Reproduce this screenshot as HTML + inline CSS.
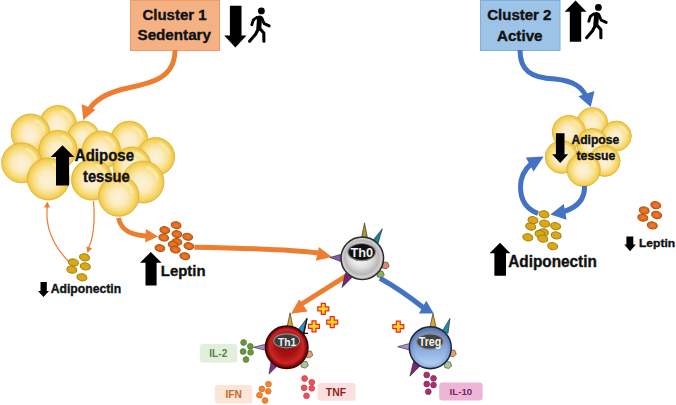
<!DOCTYPE html><html><head><meta charset="utf-8"><style>html,body{margin:0;padding:0;background:#fff;width:676px;height:405px;overflow:hidden}svg{display:block}text{font-family:"Liberation Sans",sans-serif;font-weight:bold}</style></head><body>
<svg width="676" height="405" viewBox="0 0 676 405">
<defs>
<radialGradient id="fat" cx="50%" cy="50%" r="50%" fx="48%" fy="54%">
<stop offset="0" stop-color="#FDF2D8"/><stop offset="0.4" stop-color="#FCECC2"/><stop offset="0.68" stop-color="#F9DF8A"/><stop offset="0.86" stop-color="#F5D35C"/><stop offset="0.95" stop-color="#EFC94C"/><stop offset="1" stop-color="#E0B843"/></radialGradient>
<radialGradient id="grey" cx="50%" cy="50%" r="50%" fx="42%" fy="40%">
<stop offset="0" stop-color="#FFFFFF"/><stop offset="0.5" stop-color="#E4E4E4"/><stop offset="0.8" stop-color="#B8B8B8"/><stop offset="0.92" stop-color="#D2D2D2"/><stop offset="1" stop-color="#8A8A8A"/></radialGradient>
<radialGradient id="red" cx="50%" cy="50%" r="50%" fx="50%" fy="40%">
<stop offset="0" stop-color="#8E0C0C"/><stop offset="0.5" stop-color="#A81212"/><stop offset="0.8" stop-color="#CC2626"/><stop offset="0.92" stop-color="#8A0A0A"/><stop offset="1" stop-color="#4A0404"/></radialGradient>
<linearGradient id="blue" x1="0" y1="0" x2="0" y2="1">
<stop offset="0" stop-color="#6684BA"/><stop offset="0.35" stop-color="#7C9CD4"/><stop offset="0.7" stop-color="#9ABAEA"/><stop offset="0.92" stop-color="#B6D2F6"/><stop offset="1" stop-color="#88A8D8"/></linearGradient>
<radialGradient id="edge" cx="50%" cy="50%" r="50%"><stop offset="0.75" stop-color="#000" stop-opacity="0"/><stop offset="0.93" stop-color="#102040" stop-opacity="0.15"/><stop offset="1" stop-color="#102040" stop-opacity="0.5"/></radialGradient>
<radialGradient id="gold" cx="50%" cy="50%" r="50%"><stop offset="0" stop-color="#E4A414"/><stop offset="0.6" stop-color="#D8A818"/><stop offset="1" stop-color="#D0AC20"/></radialGradient>
<radialGradient id="lep" cx="50%" cy="50%" r="50%"><stop offset="0" stop-color="#EC8030"/><stop offset="0.7" stop-color="#E06A20"/><stop offset="1" stop-color="#D06018"/></radialGradient>
</defs>
<rect x="130.5" y="0.5" width="89" height="50" fill="#F4B183" stroke="#F09A66" stroke-width="1"/>
<text x="142.5" y="19.8" font-size="14.5" textLength="64.0" lengthAdjust="spacingAndGlyphs" fill="#111" stroke="#111" stroke-width="0.35" >Cluster 1</text>
<text x="137.5" y="40" font-size="14.5" textLength="73.5" lengthAdjust="spacingAndGlyphs" fill="#111" stroke="#111" stroke-width="0.35" >Sedentary</text>
<rect x="480.5" y="0.5" width="79.5" height="50" fill="#9DC3E6" stroke="#7FAEDB" stroke-width="1"/>
<text x="487.2" y="19.8" font-size="14.5" textLength="64.3" lengthAdjust="spacingAndGlyphs" fill="#111" stroke="#111" stroke-width="0.35" >Cluster 2</text>
<text x="497" y="40.5" font-size="14.5" textLength="45.5" lengthAdjust="spacingAndGlyphs" fill="#111" stroke="#111" stroke-width="0.35" >Active</text>
<path d="M229.9,5.7 L241.5,5.7 L241.5,35.5 L246.5,35.5 L235.35,47.5 L224.2,35.5 L229.9,35.5 Z" fill="#000"/>
<path d="M569.8,41.7 L581.2,41.7 L581.2,11.7 L586.5,11.7 L575.55,0.6 L564.6,11.7 L569.8,11.7 Z" fill="#000"/>
<g transform="translate(261.4,10.9) scale(1.0)" stroke="#000" stroke-linecap="round" stroke-linejoin="round" fill="none"><circle cx="0" cy="0" r="3.4" fill="#000" stroke="none"/><path d="M-1.8,7 L-2.6,17.5" stroke-width="5"/><path d="M-4.5,6.5 L-8,9 L-9.6,13.8" stroke-width="2.9"/><path d="M0.3,7 L2.8,12.8 L7.8,15" stroke-width="2.9"/><path d="M-3,17.8 L-5.8,23.3 L-11.8,30.3" stroke-width="3.1"/><path d="M-1,18.3 L2.4,22.2 L2.5,30.3" stroke-width="3.1"/></g>
<g transform="translate(598.4,7.4) scale(1.0)" stroke="#000" stroke-linecap="round" stroke-linejoin="round" fill="none"><circle cx="0" cy="0" r="3.4" fill="#000" stroke="none"/><path d="M-1.8,7 L-2.6,17.5" stroke-width="5"/><path d="M-4.5,6.5 L-8,9 L-9.6,13.8" stroke-width="2.9"/><path d="M0.3,7 L2.8,12.8 L7.8,15" stroke-width="2.9"/><path d="M-3,17.8 L-5.8,23.3 L-11.8,30.3" stroke-width="3.1"/><path d="M-1,18.3 L2.4,22.2 L2.5,30.3" stroke-width="3.1"/></g>
<circle cx="58" cy="124" r="18.5" fill="url(#fat)" stroke="#E2B43A" stroke-width="0.9"/><path d="M62.6,111.5 A13.3,13.3 0 0 1 70.9,120.6" fill="none" stroke="#FFFBEA" stroke-opacity="0.4" stroke-width="3.0" stroke-linecap="round"/>
<circle cx="30.6" cy="133.4" r="19.4" fill="url(#fat)" stroke="#E2B43A" stroke-width="0.9"/><path d="M35.4,120.3 A14.0,14.0 0 0 1 44.1,129.8" fill="none" stroke="#FFFBEA" stroke-opacity="0.4" stroke-width="3.1" stroke-linecap="round"/>
<circle cx="83.5" cy="137" r="16" fill="url(#fat)" stroke="#E2B43A" stroke-width="0.9"/><path d="M87.4,126.2 A11.5,11.5 0 0 1 94.6,134.0" fill="none" stroke="#FFFBEA" stroke-opacity="0.4" stroke-width="2.6" stroke-linecap="round"/>
<circle cx="129.3" cy="139.8" r="18.6" fill="url(#fat)" stroke="#E2B43A" stroke-width="0.9"/><path d="M133.9,127.2 A13.4,13.4 0 0 1 142.2,136.3" fill="none" stroke="#FFFBEA" stroke-opacity="0.4" stroke-width="3.0" stroke-linecap="round"/>
<circle cx="58" cy="149.4" r="19" fill="url(#fat)" stroke="#E2B43A" stroke-width="0.9"/><path d="M62.7,136.5 A13.7,13.7 0 0 1 71.2,145.9" fill="none" stroke="#FFFBEA" stroke-opacity="0.4" stroke-width="3.0" stroke-linecap="round"/>
<circle cx="101.3" cy="150" r="19" fill="url(#fat)" stroke="#E2B43A" stroke-width="0.9"/><path d="M106.0,137.1 A13.7,13.7 0 0 1 114.5,146.5" fill="none" stroke="#FFFBEA" stroke-opacity="0.4" stroke-width="3.0" stroke-linecap="round"/>
<circle cx="155.6" cy="156.6" r="19" fill="url(#fat)" stroke="#E2B43A" stroke-width="0.9"/><path d="M160.3,143.7 A13.7,13.7 0 0 1 168.8,153.1" fill="none" stroke="#FFFBEA" stroke-opacity="0.4" stroke-width="3.0" stroke-linecap="round"/>
<circle cx="132" cy="166" r="19" fill="url(#fat)" stroke="#E2B43A" stroke-width="0.9"/><path d="M136.7,153.1 A13.7,13.7 0 0 1 145.2,162.5" fill="none" stroke="#FFFBEA" stroke-opacity="0.4" stroke-width="3.0" stroke-linecap="round"/>
<circle cx="21.7" cy="162.8" r="20" fill="url(#fat)" stroke="#E2B43A" stroke-width="0.9"/><path d="M26.6,149.3 A14.4,14.4 0 0 1 35.6,159.1" fill="none" stroke="#FFFBEA" stroke-opacity="0.4" stroke-width="3.2" stroke-linecap="round"/>
<circle cx="48.3" cy="178.9" r="21" fill="url(#fat)" stroke="#E2B43A" stroke-width="0.9"/><path d="M53.5,164.7 A15.1,15.1 0 0 1 62.9,175.0" fill="none" stroke="#FFFBEA" stroke-opacity="0.4" stroke-width="3.4" stroke-linecap="round"/>
<circle cx="92" cy="179.6" r="20.5" fill="url(#fat)" stroke="#E2B43A" stroke-width="0.9"/><path d="M97.0,165.7 A14.8,14.8 0 0 1 106.3,175.8" fill="none" stroke="#FFFBEA" stroke-opacity="0.4" stroke-width="3.3" stroke-linecap="round"/>
<circle cx="143" cy="182" r="21" fill="url(#fat)" stroke="#E2B43A" stroke-width="0.9"/><path d="M148.2,167.8 A15.1,15.1 0 0 1 157.6,178.1" fill="none" stroke="#FFFBEA" stroke-opacity="0.4" stroke-width="3.4" stroke-linecap="round"/>
<circle cx="118.8" cy="196" r="20.3" fill="url(#fat)" stroke="#E2B43A" stroke-width="0.9"/><path d="M123.8,182.3 A14.6,14.6 0 0 1 132.9,192.2" fill="none" stroke="#FFFBEA" stroke-opacity="0.4" stroke-width="3.2" stroke-linecap="round"/>
<circle cx="592.3" cy="122.8" r="15.4" fill="url(#fat)" stroke="#E2B43A" stroke-width="0.9"/><path d="M596.1,112.4 A11.1,11.1 0 0 1 603.0,119.9" fill="none" stroke="#FFFBEA" stroke-opacity="0.4" stroke-width="2.5" stroke-linecap="round"/>
<circle cx="568.9" cy="132" r="16.6" fill="url(#fat)" stroke="#E2B43A" stroke-width="0.9"/><path d="M573.0,120.8 A12.0,12.0 0 0 1 580.4,128.9" fill="none" stroke="#FFFBEA" stroke-opacity="0.4" stroke-width="2.7" stroke-linecap="round"/>
<circle cx="616.3" cy="136" r="15" fill="url(#fat)" stroke="#E2B43A" stroke-width="0.9"/><path d="M620.0,125.9 A10.8,10.8 0 0 1 626.7,133.2" fill="none" stroke="#FFFBEA" stroke-opacity="0.4" stroke-width="2.4" stroke-linecap="round"/>
<circle cx="592.3" cy="144" r="15.5" fill="url(#fat)" stroke="#E2B43A" stroke-width="0.9"/><path d="M596.1,133.5 A11.2,11.2 0 0 1 603.1,141.1" fill="none" stroke="#FFFBEA" stroke-opacity="0.4" stroke-width="2.5" stroke-linecap="round"/>
<circle cx="561.7" cy="157" r="16.4" fill="url(#fat)" stroke="#E2B43A" stroke-width="0.9"/><path d="M565.7,145.9 A11.8,11.8 0 0 1 573.1,153.9" fill="none" stroke="#FFFBEA" stroke-opacity="0.4" stroke-width="2.6" stroke-linecap="round"/>
<circle cx="604.6" cy="161" r="15.4" fill="url(#fat)" stroke="#E2B43A" stroke-width="0.9"/><path d="M608.4,150.6 A11.1,11.1 0 0 1 615.3,158.1" fill="none" stroke="#FFFBEA" stroke-opacity="0.4" stroke-width="2.5" stroke-linecap="round"/>
<circle cx="583.6" cy="169.7" r="16.7" fill="url(#fat)" stroke="#E2B43A" stroke-width="0.9"/><path d="M587.7,158.4 A12.0,12.0 0 0 1 595.2,166.6" fill="none" stroke="#FFFBEA" stroke-opacity="0.4" stroke-width="2.7" stroke-linecap="round"/>
<path d="M56,185.6 L69.1,185.6 L69.1,157 L74.3,157 L62.5,145.2 L50.7,157 L56,157 Z" fill="#000"/>
<text x="74.8" y="160.7" font-size="15.6" textLength="59.2" lengthAdjust="spacingAndGlyphs" fill="#111" stroke="#111" stroke-width="0.35" >Adipose</text>
<text x="83" y="181.7" font-size="15.6" textLength="46.7" lengthAdjust="spacingAndGlyphs" fill="#111" stroke="#111" stroke-width="0.35" >tessue</text>
<path d="M555.9,133.3 L564.5,133.3 L564.5,154.3 L568.2,154.3 L560.2,162.9 L552.2,154.3 L555.9,154.3 Z" fill="#000"/>
<text x="571.4" y="143.9" font-size="12" textLength="47.8" lengthAdjust="spacingAndGlyphs" fill="#111" stroke="#111" stroke-width="0.35" >Adipose</text>
<text x="576.5" y="160.4" font-size="12" textLength="38.9" lengthAdjust="spacingAndGlyphs" fill="#111" stroke="#111" stroke-width="0.35" >tessue</text>
<path d="M175,50 C175,78 152,83 128,88 C108,92 96,100 90,108" fill="none" stroke="#ED7D31" stroke-width="4.9"/>
<path d="M83.3,120.0 L81.6,104.2 L95.5,109.8 Z" fill="#ED7D31"/>
<path d="M520,50 C520,70 530,78 555,79 C575,81 582,88 586,96" fill="none" stroke="#4472C4" stroke-width="5"/>
<path d="M590.7,106.9 L578.3,96.2 L594.5,91.0 Z" fill="#4472C4"/>
<path d="M69,262 Q44,236 47.3,207" fill="none" stroke="#ED7D31" stroke-width="1.2"/>
<path d="M47.3,201.5 L50.1,207.6 L44.1,207.4 Z" fill="#ED7D31"/>
<path d="M93.5,201 Q96,232 88.5,248" fill="none" stroke="#ED7D31" stroke-width="1.2"/>
<path d="M87.4,253.0 L86.4,246.4 L92.1,248.2 Z" fill="#ED7D31"/>
<ellipse cx="84.5" cy="257.3" rx="5" ry="3.5" fill="url(#gold)" stroke="#A88208" stroke-width="1.1" transform="rotate(12 84.5 257.3)"/>
<ellipse cx="73.4" cy="262.5" rx="5" ry="3.5" fill="url(#gold)" stroke="#A88208" stroke-width="1.1" transform="rotate(12 73.4 262.5)"/>
<ellipse cx="85.3" cy="266.4" rx="5" ry="3.5" fill="url(#gold)" stroke="#A88208" stroke-width="1.1" transform="rotate(12 85.3 266.4)"/>
<ellipse cx="71.8" cy="269.6" rx="5" ry="3.5" fill="url(#gold)" stroke="#A88208" stroke-width="1.1" transform="rotate(12 71.8 269.6)"/>
<ellipse cx="81.9" cy="277.3" rx="5" ry="3.5" fill="url(#gold)" stroke="#A88208" stroke-width="1.1" transform="rotate(12 81.9 277.3)"/>
<path d="M40.5,282 L46.8,282 L46.8,291 L49,291 L43.5,297 L38,291 L40.5,291 Z" fill="#000"/>
<text x="50.7" y="292.6" font-size="13" textLength="70.4" lengthAdjust="spacingAndGlyphs" fill="#111" stroke="#111" stroke-width="0.35" >Adiponectin</text>
<path d="M118.5,218 C121,230 130,235 146,236" fill="none" stroke="#ED7D31" stroke-width="4.8"/>
<path d="M158.0,236.5 L145.2,242.6 L145.9,229.1 Z" fill="#ED7D31"/>
<ellipse cx="176.1" cy="225.2" rx="4.9" ry="3.4" fill="url(#lep)" stroke="#B5530C" stroke-width="1.1" transform="rotate(10 176.1 225.2)"/>
<ellipse cx="164.8" cy="230.1" rx="4.9" ry="3.4" fill="url(#lep)" stroke="#B5530C" stroke-width="1.1" transform="rotate(10 164.8 230.1)"/>
<ellipse cx="176.9" cy="234.1" rx="4.9" ry="3.4" fill="url(#lep)" stroke="#B5530C" stroke-width="1.1" transform="rotate(10 176.9 234.1)"/>
<ellipse cx="187.7" cy="236.8" rx="4.9" ry="3.4" fill="url(#lep)" stroke="#B5530C" stroke-width="1.1" transform="rotate(10 187.7 236.8)"/>
<ellipse cx="163.7" cy="237.6" rx="4.9" ry="3.4" fill="url(#lep)" stroke="#B5530C" stroke-width="1.1" transform="rotate(10 163.7 237.6)"/>
<ellipse cx="176.9" cy="241.9" rx="4.9" ry="3.4" fill="url(#lep)" stroke="#B5530C" stroke-width="1.1" transform="rotate(10 176.9 241.9)"/>
<ellipse cx="173.2" cy="244.6" rx="4.9" ry="3.4" fill="url(#lep)" stroke="#B5530C" stroke-width="1.1" transform="rotate(10 173.2 244.6)"/>
<ellipse cx="188.9" cy="246.1" rx="4.9" ry="3.4" fill="url(#lep)" stroke="#B5530C" stroke-width="1.1" transform="rotate(10 188.9 246.1)"/>
<ellipse cx="159.9" cy="248.1" rx="4.9" ry="3.4" fill="url(#lep)" stroke="#B5530C" stroke-width="1.1" transform="rotate(10 159.9 248.1)"/>
<ellipse cx="175.3" cy="249.6" rx="4.9" ry="3.4" fill="url(#lep)" stroke="#B5530C" stroke-width="1.1" transform="rotate(10 175.3 249.6)"/>
<ellipse cx="184.8" cy="256.2" rx="4.9" ry="3.4" fill="url(#lep)" stroke="#B5530C" stroke-width="1.1" transform="rotate(10 184.8 256.2)"/>
<path d="M145.5,285.5 L156.6,285.5 L156.6,262.8 L161.6,262.8 L150.8,252 L140,262.8 L145.5,262.8 Z" fill="#000"/>
<text x="160.8" y="275.6" font-size="15.3" textLength="44.7" lengthAdjust="spacingAndGlyphs" fill="#111" stroke="#111" stroke-width="0.35" >Leptin</text>
<path d="M194.4,247.2 C240,248 290,249 318,253" fill="none" stroke="#ED7D31" stroke-width="5"/>
<path d="M332.0,257.0 L315.9,260.7 L318.8,247.0 Z" fill="#ED7D31"/>
<path d="M346,276.2 L300,305" fill="none" stroke="#ED7D31" stroke-width="5"/>
<path d="M291.0,313.8 L299.2,299.2 L307.6,311.6 Z" fill="#ED7D31"/>
<path d="M380,278.3 Q401,290 423.5,307.8" fill="none" stroke="#4472C4" stroke-width="5"/>
<path d="M433.8,313.6 L418.9,313.4 L426.2,300.8 Z" fill="#4472C4"/>
<path d="M364.5,222.9 L361.5,238 L367.5,238 Z" fill="#A8982A" stroke="#222" stroke-width="0.6"/><path d="M382.3,228.8 L372.4,241 L377.8,244 Z" fill="#1C7FA0" stroke="#222" stroke-width="0.6"/><path d="M330,257.5 L342,254 L342,262 Z" fill="#8656B8" stroke="#222" stroke-width="0.6"/><path d="M342,287.5 L345.5,273 L352,277.5 Z" fill="#7A2378" stroke="#222" stroke-width="0.6"/><path d="M381.7,265.4 L383.7,261.9 L387.7,262.4 L389.2,266.4 L386.2,268.9 L382.2,267.9 Z" fill="#D88A6A" stroke="#333" stroke-width="0.6"/><path d="M376.8,274.3 L378.8,270.8 L382.8,271.3 L384.3,275.3 L381.3,277.8 L377.3,276.8 Z" fill="#8BB05A" stroke="#333" stroke-width="0.6"/><circle cx="362.3" cy="258.3" r="21.3" fill="url(#grey)" stroke="#2a2a2a" stroke-width="1.4"/><ellipse cx="361.7" cy="252.1" rx="13.8" ry="8.6" fill="#111" stroke="#8a8a8a" stroke-width="1.2"/><text x="350.6" y="257" font-size="12" textLength="22.6" lengthAdjust="spacingAndGlyphs" fill="#f2f2f2">Th0</text>
<path d="M290.1,312.8 L287,327.5 L293,327.5 Z" fill="#D4A82A" stroke="#222" stroke-width="0.6"/><path d="M307,318.1 L297.2,331 L304,334.5 Z" fill="#2A90C8" stroke="#222" stroke-width="0.6"/><path d="M253.5,347.3 L266.4,343.9 L266.4,350.5 Z" fill="#A88AC8" stroke="#222" stroke-width="0.6"/><path d="M269,374.1 L271,362 L277.5,365.8 Z" fill="#8A2890" stroke="#222" stroke-width="0.6"/><path d="M305.3,354.3 L307.3,350.8 L311.3,351.3 L312.8,355.3 L309.8,357.8 L305.8,356.8 Z" fill="#E8A070" stroke="#333" stroke-width="0.6"/><path d="M300.9,364.6 L302.9,361.1 L306.9,361.6 L308.4,365.6 L305.4,368.1 L301.4,367.1 Z" fill="#A8C890" stroke="#333" stroke-width="0.6"/><circle cx="286.7" cy="347.3" r="21.3" fill="url(#red)" stroke="#3a0404" stroke-width="1.4"/><ellipse cx="286.7" cy="340.8" rx="13" ry="7" fill="#3c3c3c" stroke="#8a8a8a" stroke-width="1.2"/><text x="278" y="346" font-size="11.5" textLength="18.3" lengthAdjust="spacingAndGlyphs" fill="#f2f2f2">Th1</text>
<path d="M433,313.5 L430,327 L436,327 Z" fill="#D8A828" stroke="#222" stroke-width="0.6"/><path d="M450,318.3 L443,330 L448,333.5 Z" fill="#1C8FB0" stroke="#222" stroke-width="0.6"/><path d="M397.7,346.7 L409.5,343.5 L409.5,350 Z" fill="#A890C8" stroke="#222" stroke-width="0.6"/><path d="M409.9,376.2 L413.5,361.5 L420.5,365.5 Z" fill="#7A2878" stroke="#222" stroke-width="0.6"/><path d="M448.8,353.3 L450.8,349.8 L454.8,350.3 L456.3,354.3 L453.3,356.8 L449.3,355.8 Z" fill="#E8A070" stroke="#333" stroke-width="0.6"/><path d="M444.2,365 L446.2,361.5 L450.2,362 L451.7,366 L448.7,368.5 L444.7,367.5 Z" fill="#A8C890" stroke="#333" stroke-width="0.6"/><circle cx="430.3" cy="347.7" r="21" fill="url(#blue)" stroke="#1c2440" stroke-width="1.4"/><circle cx="430.3" cy="347.7" r="21" fill="url(#edge)"/><ellipse cx="430" cy="341.5" rx="13.3" ry="7.7" fill="#444" stroke="#8a8a8a" stroke-width="1.2"/><text x="418.7" y="346" font-size="12" textLength="22.6" lengthAdjust="spacingAndGlyphs" fill="#f2f2f2">Treg</text>
<path d="M307,318.5 L303.5,333.5 M302.5,333.3 L308,333.3" stroke="#111" stroke-width="1.3" fill="none"/>
<path d="M321.32,303.3 H325.28000000000003 V306.82 H328.8 V310.78000000000003 H325.28000000000003 V314.3 H321.32 V310.78000000000003 H317.8 V306.82 H321.32 Z" fill="#FFD21E" stroke="#E8281C" stroke-width="1.2"/>
<path d="M330.21999999999997,316.7 H334.18 V320.21999999999997 H337.7 V324.18 H334.18 V327.7 H330.21999999999997 V324.18 H326.7 V320.21999999999997 H330.21999999999997 Z" fill="#FFD21E" stroke="#E8281C" stroke-width="1.2"/>
<path d="M312.02,320.8 H315.98 V324.32 H319.5 V328.28000000000003 H315.98 V331.8 H312.02 V328.28000000000003 H308.5 V324.32 H312.02 Z" fill="#FFD21E" stroke="#E8281C" stroke-width="1.2"/>
<path d="M396.32,321.2 H400.28000000000003 V324.71999999999997 H403.8 V328.68 H400.28000000000003 V332.2 H396.32 V328.68 H392.8 V324.71999999999997 H396.32 Z" fill="#FFD21E" stroke="#E8281C" stroke-width="1.2"/>
<circle cx="243.6" cy="342.5" r="2.9" fill="#66983C" stroke="#4A7A2A" stroke-width="0.7"/><circle cx="250.3" cy="346.3" r="2.9" fill="#66983C" stroke="#4A7A2A" stroke-width="0.7"/><circle cx="243.1" cy="351.5" r="2.9" fill="#66983C" stroke="#4A7A2A" stroke-width="0.7"/><circle cx="250.6" cy="352.3" r="2.9" fill="#66983C" stroke="#4A7A2A" stroke-width="0.7"/><circle cx="246" cy="359.5" r="2.9" fill="#66983C" stroke="#4A7A2A" stroke-width="0.7"/>
<rect x="199.8" y="344.1" width="37.5" height="18.3" rx="3" fill="#E2EFDA"/>
<text x="209.3" y="357.1" font-size="10.2" textLength="18.0" lengthAdjust="spacingAndGlyphs" fill="#5E8048" >IL-2</text>
<circle cx="268.5" cy="384.1" r="2.9" fill="#F2842E" stroke="#D86A1E" stroke-width="0.7"/><circle cx="261.9" cy="388.9" r="2.9" fill="#F2842E" stroke="#D86A1E" stroke-width="0.7"/><circle cx="268.2" cy="391.3" r="2.9" fill="#F2842E" stroke="#D86A1E" stroke-width="0.7"/><circle cx="259.5" cy="395.2" r="2.9" fill="#F2842E" stroke="#D86A1E" stroke-width="0.7"/><circle cx="265" cy="400.5" r="2.9" fill="#F2842E" stroke="#D86A1E" stroke-width="0.7"/>
<rect x="214.8" y="385.1" width="37.5" height="18.3" rx="3" fill="#FBE5D6"/>
<text x="225.4" y="398.1" font-size="10.2" textLength="16.3" lengthAdjust="spacingAndGlyphs" fill="#C06A34" >IFN</text>
<circle cx="304.6" cy="378.5" r="2.9" fill="#EC5058" stroke="#C83840" stroke-width="0.7"/><circle cx="311.8" cy="382.3" r="2.9" fill="#EC5058" stroke="#C83840" stroke-width="0.7"/><circle cx="304.1" cy="387.8" r="2.9" fill="#EC5058" stroke="#C83840" stroke-width="0.7"/><circle cx="311.8" cy="388.3" r="2.9" fill="#EC5058" stroke="#C83840" stroke-width="0.7"/><circle cx="306.5" cy="395.8" r="2.9" fill="#EC5058" stroke="#C83840" stroke-width="0.7"/>
<rect x="317.6" y="383" width="38" height="17.8" rx="3" fill="#FCE0E0"/>
<text x="325.8" y="396" font-size="10" textLength="20.2" lengthAdjust="spacingAndGlyphs" fill="#901C22" >TNF</text>
<circle cx="426.7" cy="375" r="2.9" fill="#A83070" stroke="#862458" stroke-width="0.7"/><circle cx="433.5" cy="378.3" r="2.9" fill="#A83070" stroke="#862458" stroke-width="0.7"/><circle cx="426.7" cy="384" r="2.9" fill="#A83070" stroke="#862458" stroke-width="0.7"/><circle cx="433.5" cy="385" r="2.9" fill="#A83070" stroke="#862458" stroke-width="0.7"/><circle cx="428.3" cy="391.7" r="2.9" fill="#A83070" stroke="#862458" stroke-width="0.7"/>
<rect x="439.2" y="382.4" width="43.4" height="18.1" rx="3" fill="#EDB6D6"/>
<text x="449.5" y="395.1" font-size="9.6" textLength="22.8" lengthAdjust="spacingAndGlyphs" fill="#7A2860" >IL-10</text>
<path d="M538,213.5 C526,209 520.5,199 520.5,187 C520.5,177 524,170 531,164" fill="none" stroke="#4472C4" stroke-width="5"/>
<path d="M543.7,156.6 L533.6,171.4 L525.8,157.4 Z" fill="#4472C4"/>
<path d="M584.5,186 C585,199 578,207 564,211.5" fill="none" stroke="#4472C4" stroke-width="5"/>
<path d="M550.4,214.4 L563.8,203.9 L566.6,219.7 Z" fill="#4472C4"/>
<ellipse cx="544" cy="214.3" rx="5" ry="3.5" fill="url(#gold)" stroke="#A88208" stroke-width="1.1" transform="rotate(12 544 214.3)"/>
<ellipse cx="533" cy="220.1" rx="5" ry="3.5" fill="url(#gold)" stroke="#A88208" stroke-width="1.1" transform="rotate(12 533 220.1)"/>
<ellipse cx="544.6" cy="223.6" rx="5" ry="3.5" fill="url(#gold)" stroke="#A88208" stroke-width="1.1" transform="rotate(12 544.6 223.6)"/>
<ellipse cx="555.6" cy="226.1" rx="5" ry="3.5" fill="url(#gold)" stroke="#A88208" stroke-width="1.1" transform="rotate(12 555.6 226.1)"/>
<ellipse cx="530.7" cy="226.5" rx="5" ry="3.5" fill="url(#gold)" stroke="#A88208" stroke-width="1.1" transform="rotate(12 530.7 226.5)"/>
<ellipse cx="543.4" cy="232.3" rx="5" ry="3.5" fill="url(#gold)" stroke="#A88208" stroke-width="1.1" transform="rotate(12 543.4 232.3)"/>
<ellipse cx="540" cy="234" rx="5" ry="3.5" fill="url(#gold)" stroke="#A88208" stroke-width="1.1" transform="rotate(12 540 234)"/>
<ellipse cx="556.2" cy="235.4" rx="5" ry="3.5" fill="url(#gold)" stroke="#A88208" stroke-width="1.1" transform="rotate(12 556.2 235.4)"/>
<ellipse cx="527.8" cy="237.3" rx="5" ry="3.5" fill="url(#gold)" stroke="#A88208" stroke-width="1.1" transform="rotate(12 527.8 237.3)"/>
<ellipse cx="542.8" cy="238.6" rx="5" ry="3.5" fill="url(#gold)" stroke="#A88208" stroke-width="1.1" transform="rotate(12 542.8 238.6)"/>
<ellipse cx="552.7" cy="246.2" rx="5" ry="3.5" fill="url(#gold)" stroke="#A88208" stroke-width="1.1" transform="rotate(12 552.7 246.2)"/>
<path d="M494.4,275.8 L506,275.8 L506,253.3 L510.4,253.3 L500.0,242.7 L489.6,253.3 L494.4,253.3 Z" fill="#000"/>
<text x="508.2" y="266.7" font-size="15.8" textLength="88.6" lengthAdjust="spacingAndGlyphs" fill="#111" stroke="#111" stroke-width="0.35" >Adiponectin</text>
<ellipse cx="655.8" cy="205.2" rx="5" ry="3.5" fill="url(#lep)" stroke="#B5530C" stroke-width="1.1" transform="rotate(12 655.8 205.2)"/>
<ellipse cx="644.2" cy="210.4" rx="5" ry="3.5" fill="url(#lep)" stroke="#B5530C" stroke-width="1.1" transform="rotate(12 644.2 210.4)"/>
<ellipse cx="656.6" cy="215" rx="5" ry="3.5" fill="url(#lep)" stroke="#B5530C" stroke-width="1.1" transform="rotate(12 656.6 215)"/>
<ellipse cx="642.8" cy="217.6" rx="5" ry="3.5" fill="url(#lep)" stroke="#B5530C" stroke-width="1.1" transform="rotate(12 642.8 217.6)"/>
<ellipse cx="652.3" cy="225.4" rx="5" ry="3.5" fill="url(#lep)" stroke="#B5530C" stroke-width="1.1" transform="rotate(12 652.3 225.4)"/>
<path d="M626.4,236.6 L633.3,236.6 L633.3,244.4 L635.9,244.4 L630.05,251.3 L624.2,244.4 L626.4,244.4 Z" fill="#000"/>
<text x="639" y="247" font-size="11.5" textLength="36.2" lengthAdjust="spacingAndGlyphs" fill="#111" stroke="#111" stroke-width="0.35" >Leptin</text>
</svg></body></html>
